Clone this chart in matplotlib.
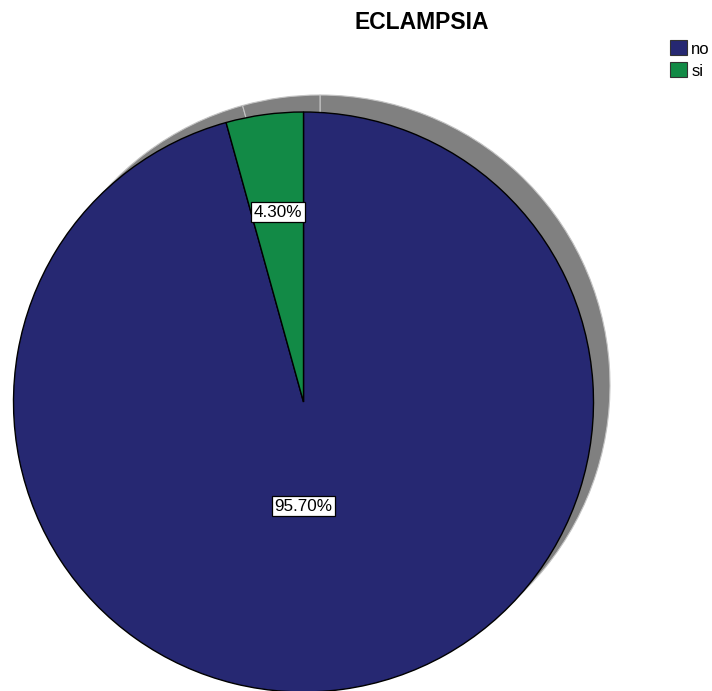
import matplotlib
matplotlib.use('Agg')
import matplotlib.pyplot as plt
import numpy as np

# eclampsia frequencies (percent)
labels = ['no', 'si']
values = [95.7, 4.3]
colors = ['#262872', '#128a46']
title = 'ECLAMPSIA'

plt.rcParams['font.family'] = ['Liberation Sans', 'DejaVu Sans']

W, H = 712, 691
fig = plt.figure(figsize=(W / 100, H / 100), dpi=100)
ax = fig.add_axes([0, 0, 1, 1])

# pie geometry in pixel units (y measured from the bottom)
cx, cy, R = 303.5, H - 402, 290
shadow_dx, shadow_dy = 16.5, 17

# grey drop shadow, same slices offset up and right
ax.pie(values, colors=['#808080'] * len(values), startangle=90,
       counterclock=False, radius=R, center=(cx + shadow_dx, cy + shadow_dy),
       wedgeprops=dict(edgecolor='#c4c4c4', linewidth=0.8))

wedges, _ = ax.pie(values, colors=colors, startangle=90, counterclock=False,
                   radius=R, center=(cx, cy),
                   wedgeprops=dict(edgecolor='black', linewidth=1.0))

# percentage labels in white boxes
for i, w in enumerate(wedges):
    if labels[i] == 'no':
        ang, dist = 270, 0.36
    else:
        ang, dist = (w.theta1 + w.theta2) / 2, 0.66
    x = cx + dist * R * np.cos(np.radians(ang))
    y = cy + dist * R * np.sin(np.radians(ang))
    ax.text(x, y, '{:.2f}%'.format(values[i]), ha='center', va='center',
            fontsize=12.3, color='black',
            bbox=dict(boxstyle='square,pad=0.15', facecolor='white',
                      edgecolor='black', linewidth=0.9))

ax.text(421.5, H - 22, title, ha='center', va='center',
        fontsize=16.5, fontweight='bold')

leg = ax.legend(wedges, labels, loc='upper left',
                bbox_to_anchor=(667 / W, 1 - 37 / H), frameon=False,
                borderaxespad=0, fontsize=12, handlelength=1.0,
                handleheight=1.0, handletextpad=0.25, labelspacing=0.35,
                borderpad=0.2)
for h in leg.legend_handles:
    h.set_edgecolor('#333333')
    h.set_linewidth(0.8)

ax.set_xlim(0, W)
ax.set_ylim(0, H)
ax.set_aspect('auto')
ax.axis('off')

fig.savefig('out.png', dpi=100)
